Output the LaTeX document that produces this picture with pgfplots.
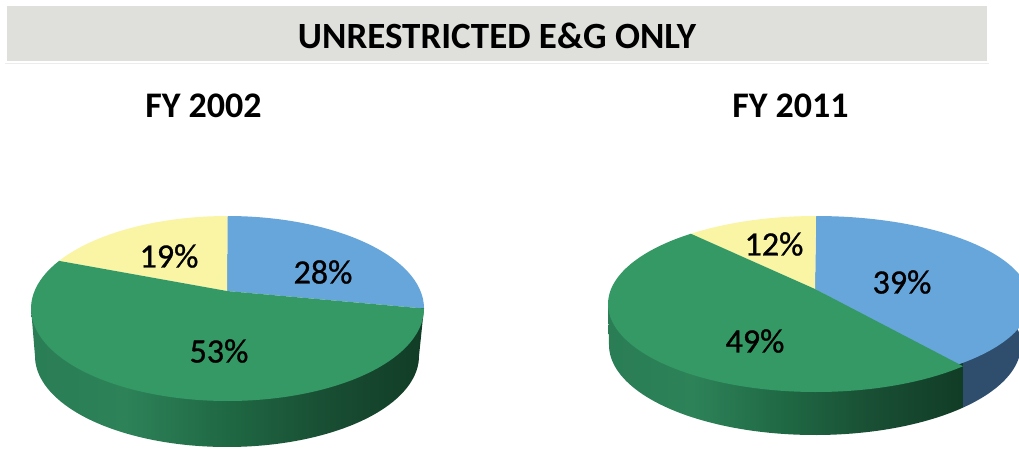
\documentclass[border=0pt]{standalone}
\usepackage{pgfplots}
\pgfplotsset{compat=1.18}
\usepackage{fontspec}
\setmainfont{Carlito}
\newfontfamily\labelfont[FakeBold=0.9]{Carlito}
\definecolor{pblue}{HTML}{67A6DB}
\definecolor{pyellow}{HTML}{FAF5A5}
\definecolor{pgreen}{HTML}{349964}
\definecolor{pwallblue}{HTML}{2F4E6E}
\definecolor{hdr}{HTML}{DFE0DB}
\definecolor{hline}{HTML}{ECECEC}
\definecolor{wa}{HTML}{2A7D55}
\definecolor{wb}{HTML}{2D8258}
\definecolor{wc}{HTML}{1F6844}
\definecolor{wd}{HTML}{194F34}
\definecolor{we}{HTML}{113C26}
\pgfdeclarehorizontalshading{wall}{100bp}{color(0bp)=(wa);color(25bp)=(wa);color(37bp)=(wb);color(50bp)=(wc);color(62bp)=(wd);color(75bp)=(we);color(100bp)=(we)}
% slice: cx, cy, rx, ry, from, to, apex x, apex y, colour
\newcommand{\slice}[9]{\addplot[fill=#9,draw=none,no markers,domain=#5:#6,samples=80,variable=\t]
  ({#1+#3*cos(\t)},{#2-#4*sin(\t)}) -- (#7,#8) -- cycle;}
\begin{document}
\begin{tikzpicture}
\begin{axis}[
  name=a,
  scale only axis, width=1019pt, height=448pt,
  xmin=0, xmax=1019, ymin=0, ymax=448, y dir=reverse,
  axis lines=none, clip=true,
  /pgf/number format/assume math mode=true,
]
% header band and rule
\addplot[fill=hdr,draw=none,no markers] coordinates {(7,6) (987,6) (987,60.5) (7,60.5)} -- cycle;
\addplot[hline,line width=1pt,no markers] coordinates {(5,63) (989,63)};
% FY 2002: side wall then top face
\addplot[shading=wall,draw=none,no markers,domain=180:360,samples=90,variable=\t]
  ({227+192*cos(\t)},{356-91*sin(\t)}) -- (424,308) -- (31,308) -- cycle;
\slice{227.5}{308.5}{196.5}{92.5}{0}{90}{227}{291}{pblue}
\slice{227.5}{308.5}{196.5}{92.5}{90}{149}{227}{291}{pyellow}
\slice{227.5}{308.5}{196.5}{92.5}{149}{360}{227}{291}{pgreen}
% FY 2011: side walls then top face
\addplot[fill=pwallblue,draw=none,no markers,domain=315.9:375,samples=30,variable=\t]
  ({815+206*cos(\t)},{345-90*sin(\t)}) -- (1019,300) -- (963,340) -- cycle;
\addplot[shading=wall,draw=none,no markers,domain=180:315.9,samples=70,variable=\t]
  ({815+206*cos(\t)},{345-90*sin(\t)}) -- (963,340) -- (608,304) -- cycle;
\slice{816}{301}{214}{85}{-50}{90}{815}{289}{pblue}
\slice{816}{304}{208}{88}{90}{127}{815}{289}{pyellow}
\slice{816}{304}{208}{88}{127}{315}{815}{289}{pgreen}
% percentage labels
\addplot[only marks,mark=none,point meta=explicit,
  nodes near coords={\pgfmathprintnumber{\pgfplotspointmeta}\%},
  nodes near coords style={anchor=center,font=\fontsize{34}{34}\selectfont\labelfont,text=black,inner sep=0pt},
] table[x=x,y=y,meta=v] {
x y v
323 272 28
169 256 19
219 351 53
774 244 12
902 282 39
755 341 49
};
\node[font=\fontsize{37}{37}\selectfont\bfseries] at (497,36) {UNRESTRICTED E\&G ONLY};
\node[font=\fontsize{36}{36}\selectfont\bfseries] at (203.5,106) {FY 2002};
\node[font=\fontsize{36}{36}\selectfont\bfseries] at (790.5,106) {FY 2011};
\end{axis}
\pgfresetboundingbox
\path[use as bounding box] (a.south west) rectangle (a.north east);
\end{tikzpicture}
\end{document}
